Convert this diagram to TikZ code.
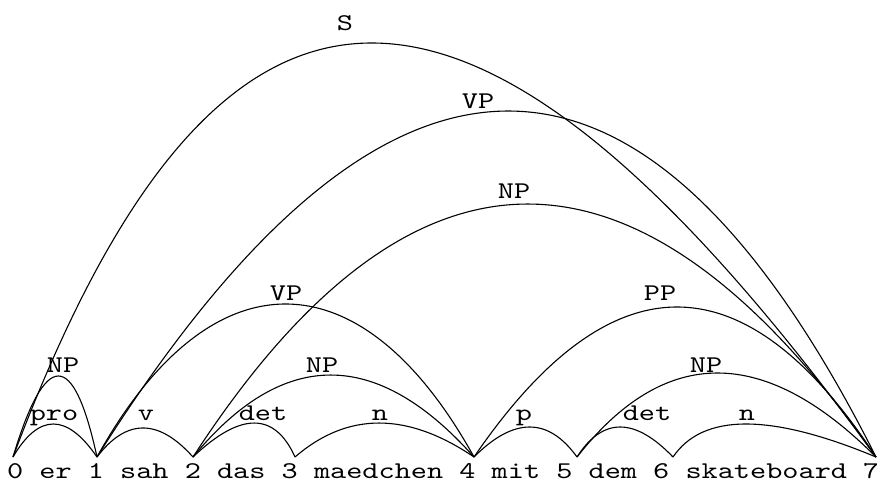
\documentclass[tikz,border=0pt]{standalone}
\usepackage{fontspec}
\newfontfamily\chartfont{lmmono10-regular.otf}[FakeStretch=1.282]
\begin{document}
\begin{tikzpicture}[x=1pt,y=-1pt,
  edge/.style={line width=1.1pt, line join=round},
  lbl/.style={inner sep=0pt, anchor=base,
    font=\chartfont\fontsize{24}{30}\selectfont},
]
\useasboundingbox (0,0) rectangle (877,482);

% chart vertices
\coordinate (v0) at (13,457);
\coordinate (v1) at (97,457);
\coordinate (v2) at (193,457);
\coordinate (v3) at (295,457);
\coordinate (v4) at (474,457);
\coordinate (v5) at (577,457);
\coordinate (v6) at (673,457);
\coordinate (v7) at (876,457);

% sentence with vertex numbers
\node[lbl, anchor=base west] (words) at (6.9,478.5) {0 er 1 sah 2 das 3 maedchen 4 mit 5 dem 6 skateboard 7};

% lexical edges
\draw[edge] (v0) .. controls +(25.8,-44) and +(-30.2,-44) .. (v1);
\draw[edge] (v1) .. controls +(29.4,-38.7) and +(-34.6,-38.7) .. (v2);
\draw[edge] (v2) .. controls +(47.6,-45.3) and +(-20.4,-45.3) .. (v3);
\draw[edge] (v3) .. controls +(52.5,-45.3) and +(-66.9,-45.3) .. (v4);
\draw[edge] (v4) .. controls +(39.8,-40) and +(-28.8,-40) .. (v5);
\draw[edge] (v5) .. controls +(25.6,-40) and +(-38.4,-40) .. (v6);
\draw[edge] (v6) .. controls +(29.8,-44) and +(-105.6,-44) .. (v7);

% phrasal edges
\draw[edge] (v0) .. controls +(32.5,-108) and +(-23.5,-108) .. (v1);
\draw[edge] (v2) .. controls +(90,-109.3) and +(-97.4,-109.3) .. (v4);
\draw[edge] (v5) .. controls +(87.7,-112) and +(-111.7,-112) .. (v7);
\draw[edge] (v1) .. controls +(113,-204) and +(-113,-204) .. (v4);
\draw[edge] (v4) .. controls +(136.7,-200) and +(-131.3,-200) .. (v7);
\draw[edge] (v2) .. controls +(218.6,-337.3) and +(-236.8,-337.3) .. (v7);
\draw[edge] (v1) .. controls +(290,-461.3) and +(-232,-461.3) .. (v7);
\draw[edge] (v0) .. controls +(207,-552) and +(-401,-552) .. (v7);

% edge labels
\node[lbl] (lS)   at (345,30)  {S};
\node[lbl] (lVPb) at (478,108) {VP};
\node[lbl] (lNPc) at (514,198) {NP};
\node[lbl] (lVPa) at (286,300) {VP};
\node[lbl] (lPP)  at (660,300) {PP};
\node[lbl] (lNPb) at (322,372) {NP};
\node[lbl] (lNPd) at (706,372) {NP};
\node[lbl] (lNPa) at (63,372)  {NP};
\node[lbl] (lpro) at (54,420)  {pro};
\node[lbl] (lv)   at (146,420) {v};
\node[lbl] (ldta) at (263,420) {det};
\node[lbl] (lna)  at (380,420) {n};
\node[lbl] (lp)   at (524,420) {p};
\node[lbl] (ldtb) at (647,420) {det};
\node[lbl] (lnb)  at (747,420) {n};
\end{tikzpicture}
\end{document}
